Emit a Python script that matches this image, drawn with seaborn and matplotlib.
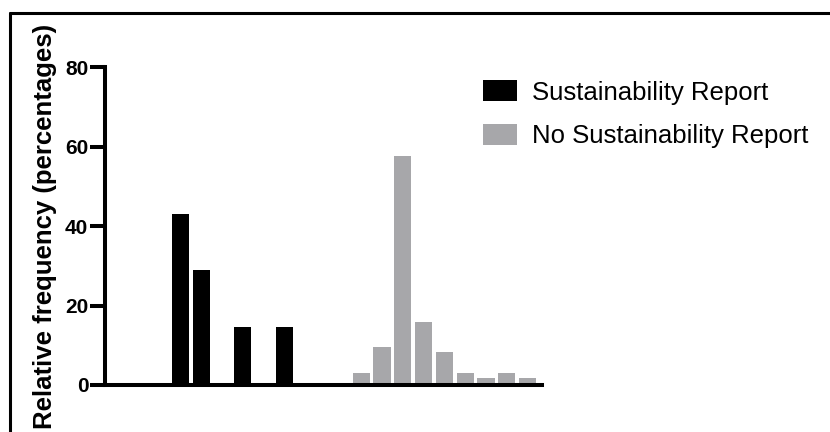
import matplotlib
matplotlib.use("Agg")
import matplotlib.pyplot as plt
from matplotlib.lines import Line2D
import numpy as np
import pandas as pd
import seaborn as sns

# relative frequencies (%), one value per bin
report_pct = [43.0, 29.0, 0.0, 14.6, 0.0, 14.6]
no_report_pct = [3.0, 9.6, 57.5, 15.9, 8.3, 3.0, 1.7, 3.0, 1.7]
series_names = ["Sustainability Report", "No Sustainability Report"]
y_ticks = [0, 20, 40, 60, 80]

sns.set_style("ticks")
plt.rcParams["font.family"] = ["Liberation Sans", "DejaVu Sans"]
plt.rcParams.update({"text.color": "black", "axes.labelcolor": "black",
                     "ytick.color": "black", "xtick.color": "black"})

fig = plt.figure(figsize=(8.3, 4.32), dpi=100)
ax = fig.add_axes([0.1265, 0.1088, 0.5262, 0.736])

# the two groups sit side by side along one axis
report_df = pd.DataFrame({"pos": 3.63 + np.arange(len(report_pct)), "pct": report_pct})
no_report_df = pd.DataFrame({"pos": 12.32 + np.arange(len(no_report_pct)), "pct": no_report_pct})

sns.barplot(data=report_df, x="pos", y="pct", orient="x", native_scale=True,
            color="black", saturation=1, width=0.82, linewidth=0,
            label=series_names[0], ax=ax)
sns.barplot(data=no_report_df, x="pos", y="pct", orient="x", native_scale=True,
            color="#a7a7aa", saturation=1, width=0.82, linewidth=0,
            label=series_names[1], ax=ax)

ax.set_xlim(0, 21)
ax.set_ylim(0, 80)
ax.set_xticks([])
ax.set_yticks(y_ticks)
ax.set_xlabel("")
ax.set_ylabel("Relative frequency (percentages)", fontsize=18.5, fontweight="bold", labelpad=6)
for lab in ax.get_yticklabels():
    lab.set_fontweight("bold")
ax.tick_params(axis="y", direction="out", length=11, width=2.9, pad=1, labelsize=15, color="black")

sns.despine(ax=ax)
for side in ["left", "bottom"]:
    ax.spines[side].set_linewidth(2.9)
    ax.spines[side].set_color("black")

ax.legend(loc="upper left", bbox_to_anchor=(0.5816, 0.8145), bbox_transform=fig.transFigure,
          frameon=False, fontsize=18.5, handlelength=1.32, handleheight=0.9,
          handletextpad=0.6, labelspacing=0.75, borderpad=0, borderaxespad=0)

# frame lines at top and left of the picture
fig.add_artist(Line2D([0.0115, 1.0], [0.971, 0.971], transform=fig.transFigure, color="black", lw=2.2))
fig.add_artist(Line2D([0.0115, 0.0115], [0.0, 0.971], transform=fig.transFigure, color="black", lw=2.2))

fig.savefig("out.png", dpi=100)
